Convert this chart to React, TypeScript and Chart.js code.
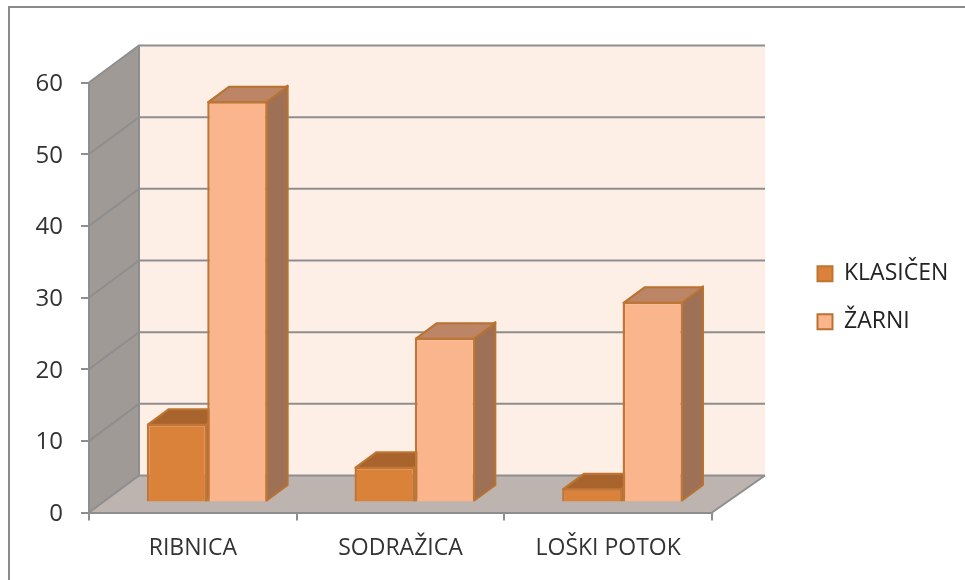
import React, { useEffect, useRef } from "react";
import { Chart, registerables } from "chart.js";

Chart.register(...registerables);

const categories = ["RIBNICA", "SODRAŽICA", "LOŠKI POTOK"];
const klasicen = [11, 5, 2];
const zarni = [56, 23, 28];
const FONT = "'Open Sans'";
const WALL = { dx: 50, dy: -37, rightDx: 53 };
const SHIFT = { dx: 14.4, dy: -10 };
const DEPTH = { dx: 21, dy: -15.5 };
const GRID = "#8e8e8e";

const faces: Record<number, { top: string; side: string; stroke: string }> = {
  0: { top: "#a8642c", side: "#a8642c", stroke: "#bd7532" },
  1: { top: "#bb8566", side: "#9e7157", stroke: "#b9722f" },
};

const scene = {
  id: "scene3d",
  beforeUpdate(chart: any) {
    const legend = chart.legend;
    if (legend && !legend.__patched) {
      const fit = legend.fit;
      legend.fit = function () {
        fit.call(this);
        this.width = 253;
      };
      legend.__patched = true;
    }
  },
  afterLayout(chart: any) {
    const l = chart.legend;
    l.left = 817.5 - l.options.labels.padding;
    l.top -= 33.5;
    l.bottom -= 33.5;
  },
  beforeDraw(chart: any) {
    const { ctx, chartArea: a, scales } = chart;
    ctx.save();
    // outer frame
    ctx.strokeStyle = "#8a8a8a";
    ctx.lineWidth = 2;
    ctx.beginPath();
    ctx.moveTo(9, 580);
    ctx.lineTo(9, 7);
    ctx.lineTo(965, 7);
    ctx.stroke();
    const { dx, dy, rightDx } = WALL;
    const poly = (pts: number[][], fill: string) => {
      ctx.beginPath();
      pts.forEach((p, i) => (i ? ctx.lineTo(p[0], p[1]) : ctx.moveTo(p[0], p[1])));
      ctx.closePath();
      ctx.fillStyle = fill;
      ctx.fill();
    };
    poly([[a.left + dx, a.top + dy], [a.right + rightDx, a.top + dy], [a.right + rightDx, a.bottom + dy], [a.left + dx, a.bottom + dy]], "#fdeee6");
    poly([[a.left, a.top], [a.left + dx, a.top + dy], [a.left + dx, a.bottom + dy], [a.left, a.bottom]], "#a09a96");
    poly([[a.left, a.bottom], [a.right, a.bottom], [a.right + rightDx, a.bottom + dy], [a.left + dx, a.bottom + dy]], "#bdb3af");
    ctx.strokeStyle = GRID;
    ctx.lineWidth = 2;
    ctx.beginPath();
    scales.y.ticks.forEach((t: any) => {
      const y = scales.y.getPixelForValue(t.value);
      ctx.moveTo(a.left, y);
      ctx.lineTo(a.left + dx, y + dy);
      ctx.lineTo(a.right + rightDx, y + dy);
    });
    ctx.moveTo(a.left + dx, a.top + dy);
    ctx.lineTo(a.left + dx, a.bottom + dy);
    ctx.moveTo(a.right, a.bottom);
    ctx.lineTo(a.right + rightDx, a.bottom + dy);
    ctx.stroke();
    ctx.restore();
  },
  beforeDatasetsDraw(chart: any) {
    const { ctx } = chart;
    ctx.save();
    ctx.translate(SHIFT.dx, SHIFT.dy);
    const { dx, dy } = DEPTH;
    chart.data.datasets.forEach((_: any, i: number) => {
      const c = faces[i];
      chart.getDatasetMeta(i).data.forEach((bar: any) => {
        const p = bar.getProps(["x", "y", "base", "width"], true);
        const l = p.x - p.width / 2 + 1;
        const r = p.x + p.width / 2 - 1;
        const poly = (pts: number[][], fill: string) => {
          ctx.beginPath();
          pts.forEach((q, k) => (k ? ctx.lineTo(q[0], q[1]) : ctx.moveTo(q[0], q[1])));
          ctx.closePath();
          ctx.fillStyle = fill;
          ctx.strokeStyle = c.stroke;
          ctx.lineWidth = 2;
          ctx.lineJoin = "round";
          ctx.fill();
          ctx.stroke();
        };
        poly([[r, p.y], [r + dx, p.y + dy], [r + dx, p.base - 1 + dy], [r, p.base - 1]], c.side);
        poly([[l, p.y + 1], [l + dx, p.y + 1 + dy], [r + dx, p.y + 1 + dy], [r, p.y + 1]], c.top);
      });
    });
  },
  afterDatasetsDraw(chart: any) {
    chart.ctx.restore();
  },
};

export default function App() {
  const ref = useRef<HTMLCanvasElement>(null);
  useEffect(() => {
    const chart = new Chart(ref.current!, {
      type: "bar",
      data: {
        labels: categories,
        datasets: [
          { label: "KLASIČEN", data: klasicen, backgroundColor: "#db823a", borderColor: "#bf7637", borderWidth: 2.5, clip: false },
          { label: "ŽARNI", data: zarni, backgroundColor: "#fbb58c", borderColor: "#bf7637", borderWidth: 2.5, clip: false },
        ] as any,
      },
      options: {
        animation: false,
        responsive: false,
        layout: { autoPadding: false, padding: { top: 82.5, left: 0, right: 0, bottom: 0 } },
        datasets: { bar: { categoryPercentage: 0.582, barPercentage: 1 } },
        plugins: {
          tooltip: { enabled: false },
          title: { display: false },
          legend: {
            position: "right",
            labels: {
              font: { family: FONT, size: 23 },
              color: "#222222",
              boxWidth: 15,
              boxHeight: 15,
              padding: 25,
              generateLabels: (c: any) =>
                c.data.datasets.map((d: any, i: number) => ({
                  text: d.label,
                  fillStyle: d.backgroundColor,
                  strokeStyle: faces[i].stroke,
                  lineWidth: 2,
                  datasetIndex: i,
                  fontColor: "#222222",
                })),
            },
          },
        },
        scales: {
          x: {
            afterFit: (s: any) => { s.height = 67.5; },
            grid: { offset: true, drawOnChartArea: false, drawTicks: true, tickLength: 8, color: GRID, lineWidth: 2 },
            border: { display: true, color: GRID, width: 2 },
            ticks: { font: { family: FONT, size: 23 }, color: "#333333", padding: 14, maxRotation: 0 },
          },
          y: {
            min: 0,
            max: 60,
            afterFit: (s: any) => { s.width = 89; },
            grid: { drawOnChartArea: false, drawTicks: true, tickLength: 8, color: GRID, lineWidth: 2 },
            border: { display: true, color: GRID, width: 2 },
            ticks: { stepSize: 10, font: { family: FONT, size: 24 }, color: "#333333", padding: 18, labelOffset: 1.5 },
          },
        },
      },
      plugins: [scene],
    } as any);
    return () => chart.destroy();
  }, []);
  return (
    <canvas
      ref={ref}
      width={965}
      height={580}
      style={{ position: "fixed", left: 0, top: 0, display: "block", width: 965, height: 580 }}
    />
  );
}
